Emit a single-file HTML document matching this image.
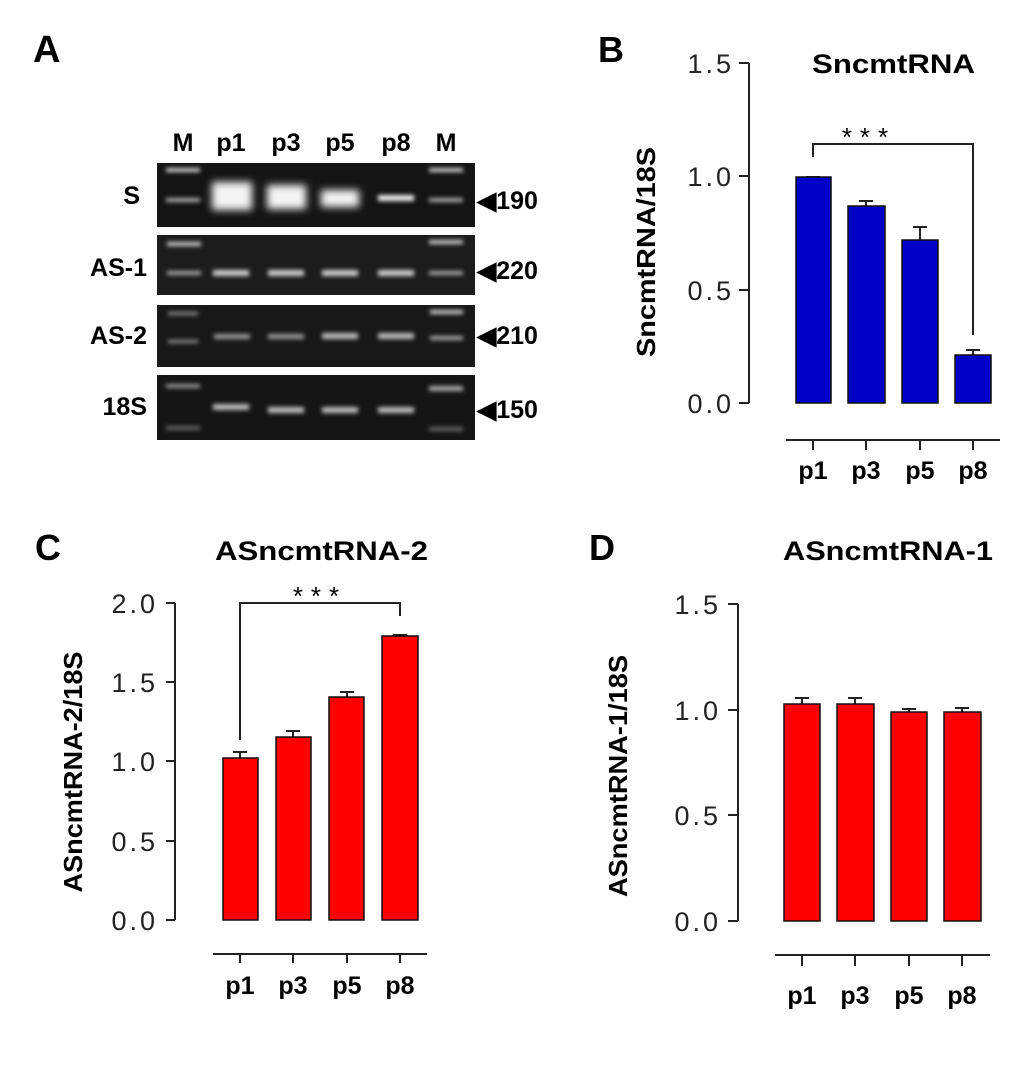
<!DOCTYPE html>
<html><head><style>
html,body{margin:0;padding:0;background:#fff;}
svg{display:block;}
text{font-family:"Liberation Sans",Arial,sans-serif;}
.b{font-weight:bold;}
.t{font-size:27px;letter-spacing:3px;fill:#222;}
</style></head><body>
<svg width="1020" height="1088" viewBox="0 0 1020 1088" xmlns="http://www.w3.org/2000/svg">
<defs>
<filter id="bl" x="-50%" y="-100%" width="200%" height="300%"><feGaussianBlur stdDeviation="2.2"/></filter>
<filter id="bl2" x="-50%" y="-100%" width="200%" height="300%"><feGaussianBlur stdDeviation="4"/></filter>
</defs>
<!-- Panel A -->
<text x="33" y="62" class="b" font-size="38">A</text>
<g class="b" font-size="25" text-anchor="middle">
<text x="183" y="151">M</text><text x="231" y="151">p1</text><text x="286" y="151">p3</text>
<text x="340" y="151">p5</text><text x="396" y="151">p8</text><text x="446" y="151">M</text>
</g>
<g class="b" font-size="25" text-anchor="end">
<text x="140" y="204">S</text><text x="147" y="276">AS-1</text><text x="147" y="344">AS-2</text><text x="147" y="415">18S</text>
</g>
<g class="b" font-size="25">
<text x="477" y="209">◀190</text><text x="477" y="279">◀220</text><text x="477" y="344">◀210</text><text x="477" y="418">◀150</text>
</g>
<rect x="157" y="163" width="318" height="64" fill="#141414"/>
<rect x="157" y="235" width="318" height="60" fill="#1c1c1c"/>
<rect x="157" y="305" width="318" height="62" fill="#181818"/>
<rect x="157" y="375" width="318" height="65" fill="#151515"/>
<g fill="#cfcfcf" filter="url(#bl)">
<rect x="166" y="168" width="34" height="4"/><rect x="166" y="198" width="34" height="4" fill="#aaa"/>
<rect x="429" y="168" width="34" height="4"/><rect x="429" y="198" width="34" height="4" fill="#aaa"/>
<rect x="378" y="195" width="36" height="6" fill="#eee"/>
<rect x="167" y="242" width="34" height="4"/><rect x="167" y="271" width="34" height="4" fill="#aaa"/>
<rect x="429" y="240" width="34" height="4"/><rect x="429" y="271" width="34" height="4" fill="#aaa"/>
<rect x="213" y="270" width="36" height="6"/><rect x="268" y="270" width="36" height="6"/>
<rect x="322" y="270" width="36" height="6"/><rect x="378" y="270" width="36" height="6"/>
<rect x="168" y="312" width="30" height="3" fill="#999"/><rect x="168" y="340" width="30" height="3" fill="#999"/>
<rect x="430" y="310" width="33" height="4"/><rect x="430" y="336" width="33" height="4" fill="#aaa"/>
<rect x="214" y="334" width="36" height="5" fill="#999"/><rect x="268" y="334" width="36" height="5" fill="#999"/>
<rect x="322" y="333" width="36" height="6" fill="#bbb"/><rect x="378" y="333" width="36" height="6" fill="#bbb"/>
<rect x="166" y="384" width="34" height="4" fill="#999"/><rect x="166" y="426" width="34" height="4" fill="#666"/>
<rect x="429" y="386" width="34" height="5" fill="#aaa"/><rect x="429" y="427" width="34" height="4" fill="#666"/>
<rect x="213" y="404" width="36" height="6" fill="#bbb"/><rect x="268" y="407" width="36" height="6" fill="#bbb"/>
<rect x="322" y="407" width="36" height="6" fill="#bbb"/><rect x="378" y="407" width="36" height="6" fill="#bbb"/>
</g>
<g fill="#f4f4f4" filter="url(#bl2)">
<rect x="212" y="182" width="40" height="28"/><rect x="267" y="185" width="39" height="24"/>
<rect x="321" y="190" width="38" height="17"/>
</g>

<!-- Panel B -->
<text x="598" y="62" class="b" font-size="36">B</text>
<text x="812" y="73" class="b" font-size="27" textLength="163" lengthAdjust="spacingAndGlyphs">SncmtRNA</text>
<g stroke="#222" stroke-width="2" fill="none">
<path d="M749 63V403M739 63H749M739 176H749M739 290H749M739 403H749"/>
<path d="M786 440H1000M813 440V450M866 440V450M920 440V450M973 440V450"/>
<path d="M813 157V144H973V335"/>
<path d="M806 177H820M813 177V176M859 201H873M866 201V206M913 227H927M920 227V240M966 350H980M973 350V355"/>
</g>
<g fill="#0000c8" stroke="#111" stroke-width="1.5">
<rect x="796" y="177" width="35" height="226"/><rect x="848" y="206" width="37" height="197"/>
<rect x="902" y="240" width="36" height="163"/><rect x="955" y="355" width="36" height="48"/>
</g>
<text x="869" y="146" font-size="26" text-anchor="middle" letter-spacing="8">***</text>
<g class="t" text-anchor="end">
<text x="734" y="73">1.5</text><text x="734" y="186">1.0</text><text x="734" y="300">0.5</text><text x="734" y="413">0.0</text>
</g>
<g class="b" font-size="25" text-anchor="middle">
<text x="813" y="479">p1</text><text x="866" y="479">p3</text><text x="920" y="479">p5</text><text x="973" y="479">p8</text>
</g>
<text transform="translate(655,252) rotate(-90)" class="b" font-size="26" text-anchor="middle" textLength="210" lengthAdjust="spacingAndGlyphs">SncmtRNA/18S</text>

<!-- Panel C -->
<text x="35" y="560" class="b" font-size="36">C</text>
<text x="215" y="560" class="b" font-size="27" textLength="213" lengthAdjust="spacingAndGlyphs">ASncmtRNA-2</text>
<g stroke="#222" stroke-width="2" fill="none">
<path d="M175 603V920M166 603H175M166 682H175M166 761H175M166 841H175M166 920H175"/>
<path d="M213 954H427M240 954V963M293 954V963M347 954V963M400 954V963"/>
<path d="M240 740V603H400V616"/>
<path d="M233 752H247M240 752V758M286 731H300M293 731V737M340 692H354M347 692V697M393 635H407"/>
</g>
<g fill="#ff0000" stroke="#111" stroke-width="1.5">
<rect x="223" y="758" width="35" height="162"/><rect x="276" y="737" width="35" height="183"/>
<rect x="329" y="697" width="35" height="223"/><rect x="382" y="636" width="36" height="284"/>
</g>
<text x="320" y="605" font-size="26" text-anchor="middle" letter-spacing="8">***</text>
<g class="t" text-anchor="end">
<text x="158" y="613">2.0</text><text x="158" y="692">1.5</text><text x="158" y="771">1.0</text><text x="158" y="851">0.5</text><text x="158" y="930">0.0</text>
</g>
<g class="b" font-size="25" text-anchor="middle">
<text x="240" y="994">p1</text><text x="293" y="994">p3</text><text x="347" y="994">p5</text><text x="400" y="994">p8</text>
</g>
<text transform="translate(82,772) rotate(-90)" class="b" font-size="26" text-anchor="middle" textLength="241" lengthAdjust="spacingAndGlyphs">ASncmtRNA-2/18S</text>

<!-- Panel D -->
<text x="589" y="560" class="b" font-size="36">D</text>
<text x="783" y="560" class="b" font-size="27" textLength="210" lengthAdjust="spacingAndGlyphs">ASncmtRNA-1</text>
<g stroke="#222" stroke-width="2" fill="none">
<path d="M738 604V921M728 604H738M728 710H738M728 815H738M728 921H738"/>
<path d="M775 955H990M802 955V966M855 955V966M909 955V966M962 955V966"/>
<path d="M795 698H809M802 698V704M848 698H862M855 698V704M902 709H916M909 709V712M955 708H969M962 708V712"/>
</g>
<g fill="#ff0000" stroke="#111" stroke-width="1.5">
<rect x="784" y="704" width="36" height="217"/><rect x="837" y="704" width="37" height="217"/>
<rect x="891" y="712" width="36" height="209"/><rect x="944" y="712" width="37" height="209"/>
</g>
<g class="t" text-anchor="end">
<text x="721" y="614">1.5</text><text x="721" y="720">1.0</text><text x="721" y="825">0.5</text><text x="721" y="931">0.0</text>
</g>
<g class="b" font-size="25" text-anchor="middle">
<text x="802" y="1004">p1</text><text x="855" y="1004">p3</text><text x="909" y="1004">p5</text><text x="962" y="1004">p8</text>
</g>
<text transform="translate(627,776) rotate(-90)" class="b" font-size="26" text-anchor="middle" textLength="242" lengthAdjust="spacingAndGlyphs">ASncmtRNA-1/18S</text>
</svg>
</body></html>
